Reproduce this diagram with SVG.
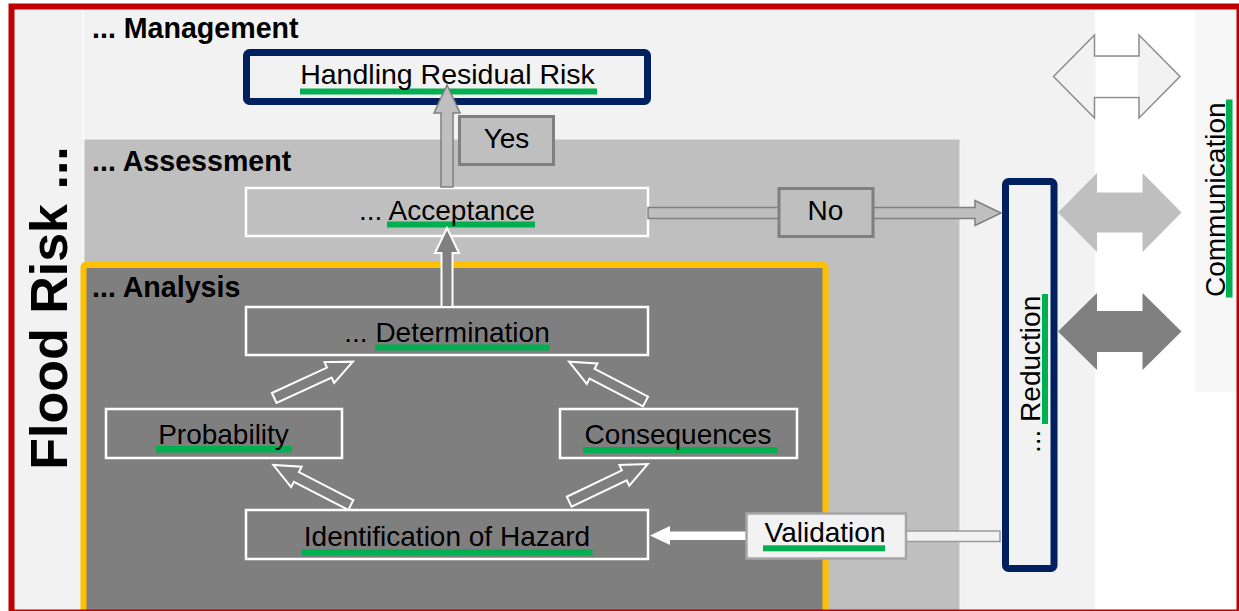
<svg xmlns="http://www.w3.org/2000/svg" width="1239" height="611" viewBox="0 0 1239 611">
  <style>
    text { font-family: "Liberation Sans", Arial, sans-serif; fill: #000; }
    .lbl { font-size: 28px; text-anchor: middle; }
    .head { font-size: 28.6px; font-weight: bold; }
    .ul { fill: #00b050; }
    .box-w { stroke: #ffffff; stroke-width: 2.5; }
    .box-navy { fill: #f2f2f2; stroke: #002060; stroke-width: 7; }
    .tag { fill: #bfbfbf; stroke: #7f7f7f; stroke-width: 3; }
    .diag { fill: #7f7f7f; stroke: #ffffff; stroke-width: 2; stroke-linejoin: miter; }
  </style>

  <!-- backgrounds / swimlanes -->
  <g id="lanes">
    <rect x="14" y="9" width="1225" height="602" fill="#f2f2f2"/>
    <rect x="1095" y="9" width="144" height="602" fill="#ffffff"/>
    <rect x="1195" y="9" width="42" height="383" fill="#f7f7f7"/>
    <line x1="83" y1="9" x2="83" y2="139" stroke="#fbfbfb" stroke-width="1.5"/>
    <rect x="84" y="139" width="876" height="474" fill="#bfbfbf" stroke="#f6f6f6" stroke-width="1"/>
    <rect x="83.5" y="265" width="742" height="348" rx="2" fill="#7f7f7f" stroke="#ffc000" stroke-width="6"/>
    <text class="head" x="92" y="37.5">... Management</text>
    <text class="head" x="92" y="171">... Assessment</text>
    <text class="head" x="92" y="297">... Analysis</text>
    <text font-size="52" font-weight="bold" text-anchor="middle" transform="translate(67,308) rotate(-90)">Flood Risk ...</text>
  </g>

  <!-- communication lane -->
  <g id="communication">
    <rect class="ul" x="1226" y="99.5" width="6.5" height="198"/>
    <text font-size="28" transform="translate(1225,297) rotate(-90)">Communication</text>
  </g>

  <!-- nodes (underline first, label on top) -->
  <g id="handling-residual-risk">
    <rect class="box-navy" x="246.5" y="52.5" width="401" height="49" rx="3"/>
    <rect class="ul" x="300" y="88.5" width="297" height="6"/>
    <text class="lbl" x="447.5" y="83.5" style="font-size:28.5px">Handling Residual Risk</text>
  </g>

  <g id="acceptance">
    <rect class="box-w" x="246" y="188" width="402" height="48" fill="#bfbfbf"/>
    <rect class="ul" x="387" y="221.5" width="148" height="6"/>
    <text class="lbl" x="447" y="219.5">... Acceptance</text>
  </g>

  <g id="determination">
    <rect class="box-w" x="246" y="307" width="402" height="48" fill="#7f7f7f"/>
    <rect class="ul" x="375" y="344.5" width="174.5" height="6"/>
    <text class="lbl" x="447" y="342">... Determination</text>
  </g>

  <g id="probability">
    <rect class="box-w" x="106" y="409" width="236" height="49" fill="#7f7f7f"/>
    <rect class="ul" x="156" y="446" width="135.5" height="6.5"/>
    <text class="lbl" x="223.5" y="443.5">Probability</text>
  </g>

  <g id="consequences">
    <rect class="box-w" x="560" y="409" width="237" height="49" fill="#7f7f7f"/>
    <rect class="ul" x="583" y="447" width="194.5" height="6"/>
    <text class="lbl" x="678" y="443.5">Consequences</text>
  </g>

  <g id="identification">
    <rect class="box-w" x="246" y="510" width="402" height="49" fill="#7f7f7f"/>
    <rect class="ul" x="301.5" y="549.5" width="291" height="6"/>
    <text class="lbl" x="447" y="545.5">Identification of Hazard</text>
  </g>

  <g id="reduction">
    <rect class="box-navy" x="1005.5" y="181.5" width="48.5" height="387" rx="3"/>
    <rect class="ul" x="1042" y="294" width="6" height="130"/>
    <text font-size="28" transform="translate(1040,453) rotate(-90)">... Reduction</text>
  </g>

  <!-- connectors -->
  <g id="connectors">
    <!-- Determination -> Acceptance -->
    <polygon points="441.5,307 441.5,253 435,253 447,228 459,253 452.5,253 452.5,307" fill="#808080" stroke="#ffffff" stroke-width="2"/>
    <!-- Acceptance -> Handling Residual Risk (Yes) -->
    <polygon points="441,187 441,113 434,113 447,85 460,113 453,113 453,187" fill="#bfbfbf" stroke="#808080" stroke-width="1.5"/>
    <!-- Acceptance -> Reduction (No) -->
    <polygon points="648,207.5 975,207.5 975,200.5 1001,213 975,225.5 975,218.5 648,218.5" fill="#bfbfbf" stroke="#808080" stroke-width="1.5"/>
    <!-- Reduction -> Validation -> Identification -->
    <rect x="906" y="531" width="94" height="10.5" fill="#f2f2f2" stroke="#9a9a9a" stroke-width="1.5"/>
    <polygon points="746,531.5 670,531.5 670,526 650,535.5 670,545 670,540 746,540" fill="#ffffff"/>

    <!-- analysis block arrows -->
    <polygon class="diag" transform="translate(274.2,398) rotate(-24.8)" points="0,-5.5 60.7,-5.5 60.7,-11.5 86.7,0 60.7,11.5 60.7,5.5 0,5.5"/>
    <polygon class="diag" transform="translate(645.5,401.5) rotate(-152.5)" points="0,-5.5 60.2,-5.5 60.2,-11.5 86.2,0 60.2,11.5 60.2,5.5 0,5.5"/>
    <polygon class="diag" transform="translate(350.8,505) rotate(-152.7)" points="0,-5.5 61.2,-5.5 61.2,-11.5 87.2,0 61.2,11.5 61.2,5.5 0,5.5"/>
    <polygon class="diag" transform="translate(569.2,501.7) rotate(-25.6)" points="0,-5.5 61.1,-5.5 61.1,-11.5 87.1,0 61.1,11.5 61.1,5.5 0,5.5"/>

    <!-- communication double arrows -->
    <polygon points="1053.5,76.5 1094.5,35 1094.5,56 1139,56 1139,35 1180,76.5 1139,118 1139,97.5 1094.5,97.5 1094.5,118" fill="#f2f2f2" stroke="#8c8c8c" stroke-width="1.5"/>
    <rect x="1095.5" y="57" width="42.5" height="39.5" fill="#ffffff"/>
    <polygon points="1058,212.5 1097,173 1097,192.5 1142.5,192.5 1142.5,173 1181.5,212.5 1142.5,252 1142.5,232.5 1097,232.5 1097,252" fill="#bfbfbf"/>
    <polygon points="1058,331.5 1097,293 1097,311 1142.5,311 1142.5,293 1181.5,331.5 1142.5,370 1142.5,352 1097,352 1097,370" fill="#808080"/>
  </g>

  <!-- decision labels -->
  <g id="yes-label">
    <rect class="tag" x="459.5" y="116.5" width="94" height="48"/>
    <text class="lbl" x="506.5" y="147.5">Yes</text>
  </g>
  <g id="no-label">
    <rect class="tag" x="779" y="188.5" width="94" height="48"/>
    <text class="lbl" x="825.5" y="219.5">No</text>
  </g>
  <g id="validation">
    <rect x="746.5" y="513.5" width="159.5" height="45" fill="#f2f2f2" stroke="#a6a6a6" stroke-width="2.5"/>
    <rect class="ul" x="763" y="545.3" width="122" height="6"/>
    <text class="lbl" x="825" y="541.5">Validation</text>
  </g>

  <!-- frame -->
  <rect x="11.5" y="6.5" width="1228" height="606" fill="none" stroke="#c00000" stroke-width="6"/>
</svg>
